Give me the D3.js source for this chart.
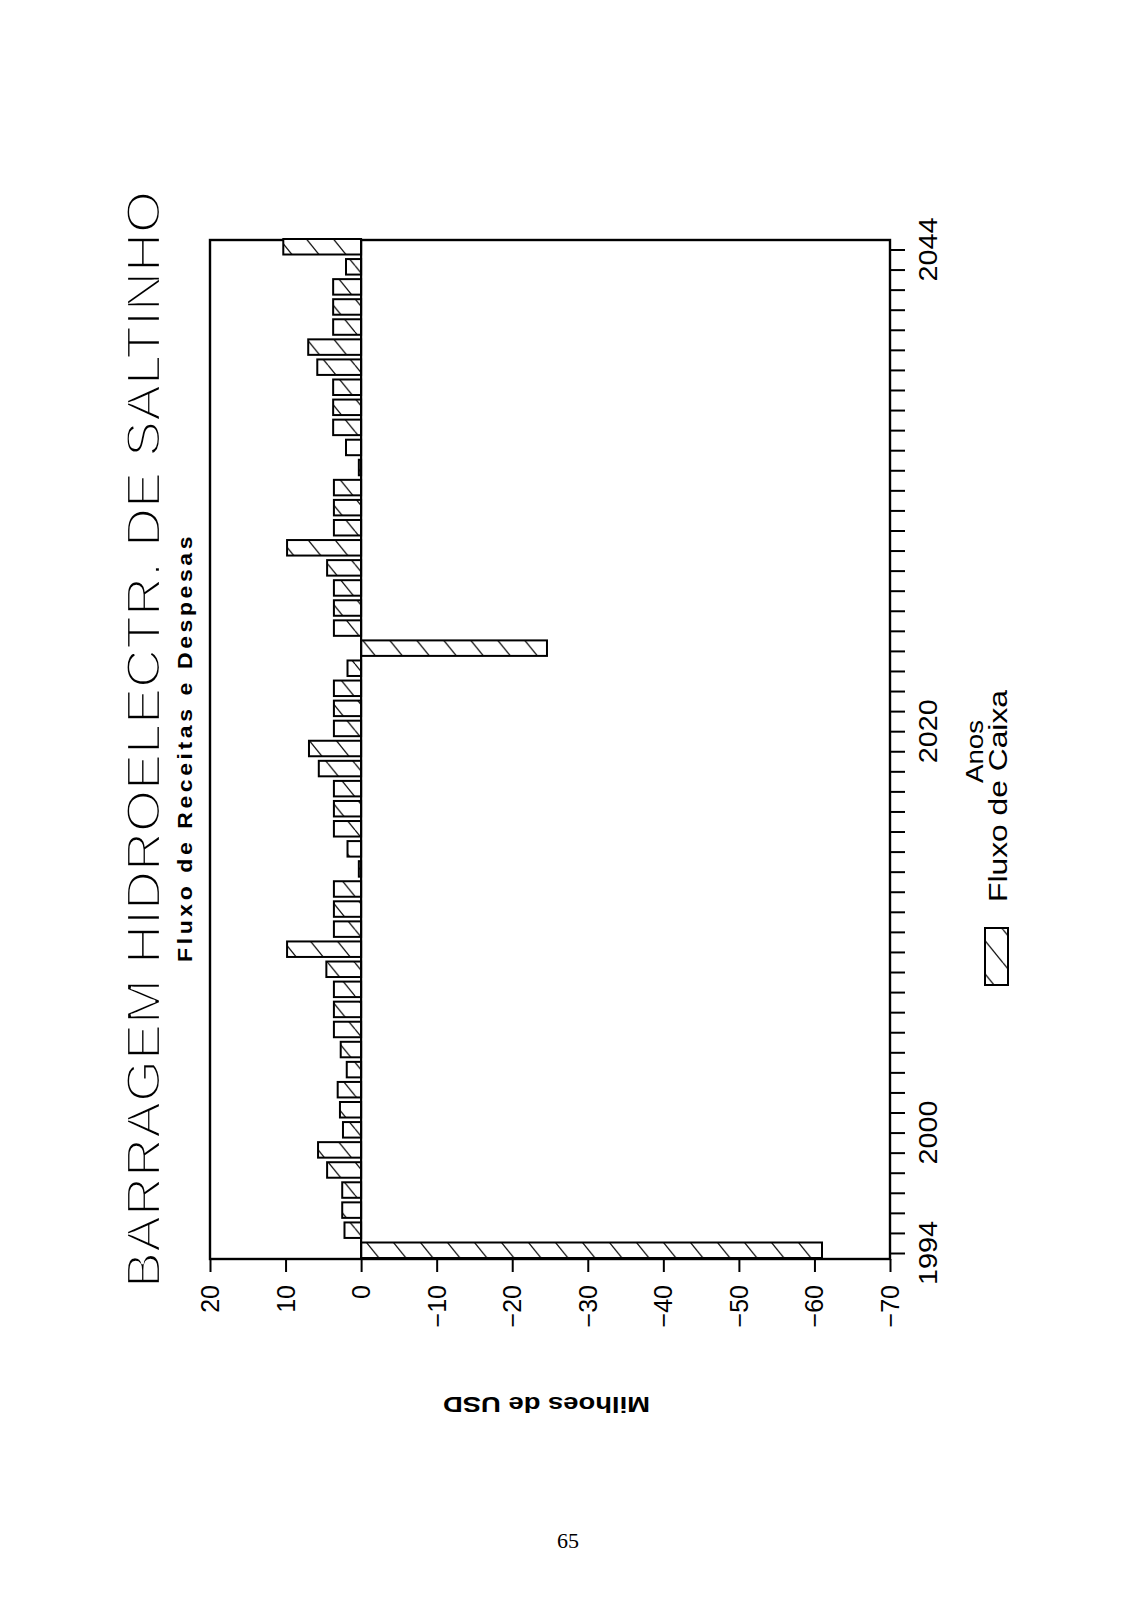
<!DOCTYPE html>
<html><head><meta charset="utf-8">
<script src="https://cdn.jsdelivr.net/npm/d3@7"></script>
<style>body{margin:0;background:#fff}</style>
</head><body>
<svg id="c" width="1131" height="1620"></svg>
<script>
// ---- data ----
const years = [1994,1995,1996,1997,1998,1999,2000,2001,2002,2003,2004,2005,2006,2007,2008,2009,
  2010,2011,2012,2013,2014,2015,2016,2017,2018,2019,2020,2021,2022,2023,2024,2025,2026,2027,2028,2029,
  2030,2031,2032,2033,2034,2035,2036,2037,2038,2039,2040,2041,2042,2043,2044];
const cashFlow = [-61,2.2,2.5,2.5,4.5,5.7,2.4,2.8,3.1,1.9,2.7,3.6,3.6,3.6,4.6,9.8,
  3.6,3.6,3.6,0.3,1.8,3.6,3.6,3.6,5.6,6.9,3.6,3.6,3.6,1.8,-24.6,3.6,3.6,3.6,4.5,9.8,
  3.6,3.6,3.6,0.3,2.0,3.7,3.7,3.7,5.8,7.0,3.7,3.7,3.7,2.0,10.3];
const valueTicks = [20,10,0,-10,-20,-30,-40,-50,-60,-70];
const valueTickLabels = ["20","10","0","\u221210","\u221220","\u221230","\u221240","\u221250","\u221260","\u221270"];
const yearTickLabels = [1994,2000,2020,2044];
const titleText = "BARRAGEM HIDROELECTR. DE SALTINHO";
const subtitleText = "Fluxo de Receitas e Despesas";
const yearAxisTitle = "Anos";
const valueAxisTitle = "Milhoes de USD";
const legendLabel = "Fluxo de Caixa";
const pageNumber = "65";

// ---- layout ----
const svg = d3.select("#c");
const boxTop = 240, boxBottom = 1259;
const vScale = d3.scaleLinear().domain([20,-70]).range([210,890]);
const yrScale = d3.scaleLinear().domain([1994,2044]).range([1253,249.5]);
const data = years.map((y,i)=>({year:y, value:cashFlow[i]}));

// hatch pattern
const defs = svg.append("defs");
const pat = defs.append("pattern").attr("id","hatch").attr("patternUnits","userSpaceOnUse")
  .attr("width",27).attr("height",33.2).attr("x",4).attr("y",0);
pat.append("rect").attr("width",27).attr("height",33.2).attr("fill","#fff");
[-27,0,27].forEach(o=>{
  pat.append("line").attr("x1",o).attr("y1",0).attr("x2",o+27).attr("y2",33.2)
    .attr("stroke","#111").attr("stroke-width",1.3);
});

// box
svg.append("rect").attr("x",vScale(20)).attr("y",boxTop)
  .attr("width",vScale(-70)-vScale(20)).attr("height",boxBottom-boxTop)
  .attr("fill","none").attr("stroke","#000").attr("stroke-width",2.4);

// bars
svg.append("g").selectAll("rect").data(data).join("rect")
  .attr("x",d=>Math.min(vScale(d.value),vScale(0)))
  .attr("width",d=>Math.abs(vScale(d.value)-vScale(0)))
  .attr("y",d=>yrScale(d.year)-10.5)
  .attr("height",15.5)
  .attr("fill","url(#hatch)").attr("stroke","#000").attr("stroke-width",2);

// zero line
svg.append("line").attr("x1",vScale(0)).attr("x2",vScale(0)).attr("y1",boxTop).attr("y2",boxBottom)
  .attr("stroke","#000").attr("stroke-width",2.2);

// year axis (right)
const ya = svg.append("g").attr("transform",`translate(${vScale(-70)},0)`)
  .call(d3.axisRight(yrScale).tickValues(years).tickSize(15).tickFormat(""));
ya.select(".domain").remove();
ya.selectAll("line").attr("stroke","#000").attr("stroke-width",2);

// value axis (bottom)
const va = svg.append("g").attr("transform",`translate(0,${boxBottom})`)
  .call(d3.axisBottom(vScale).tickValues(valueTicks).tickSize(13).tickFormat(""));
va.select(".domain").remove();
va.selectAll("line").attr("stroke","#000").attr("stroke-width",2);

const sans = "'Liberation Sans', Arial, sans-serif";

// year labels
svg.append("g").selectAll("text").data(yearTickLabels).join("text")
  .attr("transform",d=>`translate(937,${yrScale(d)}) rotate(-90)`)
  .attr("text-anchor","middle").attr("font-family",sans).attr("font-size",25)
  .attr("textLength",64).attr("lengthAdjust","spacingAndGlyphs")
  .text(d=>d);

// value labels
svg.append("g").selectAll("text").data(valueTicks).join("text")
  .attr("transform",d=>`translate(${vScale(d)+9},1285) rotate(-90)`)
  .attr("text-anchor","end").attr("font-family",sans).attr("font-size",25)
  .text((d,i)=>valueTickLabels[i]);

// title
svg.append("text").attr("transform","translate(160,1288) rotate(-90)")
  .attr("font-family",sans).attr("font-size",49)
  .attr("textLength",1097).attr("lengthAdjust","spacingAndGlyphs")
  .attr("fill","#000").attr("stroke","#fff").attr("stroke-width",2.2)
  .text(titleText);

// subtitle
svg.append("text").attr("transform","translate(192,962) rotate(-90) scale(1.15,1)")
  .attr("font-family",sans).attr("font-size",20).attr("font-weight","bold")
  .attr("textLength",370).attr("lengthAdjust","spacing")
  .text(subtitleText);

// year axis title
svg.append("text").attr("transform","translate(983,783) rotate(-90)")
  .attr("font-family",sans).attr("font-size",24)
  .attr("textLength",63).attr("lengthAdjust","spacingAndGlyphs")
  .text(yearAxisTitle);

// legend
svg.append("rect").attr("x",985).attr("y",928).attr("width",23).attr("height",57)
  .attr("fill","url(#hatch)").attr("stroke","#000").attr("stroke-width",2);
svg.append("text").attr("transform","translate(1007,902) rotate(-90)")
  .attr("font-family",sans).attr("font-size",26)
  .attr("textLength",212).attr("lengthAdjust","spacingAndGlyphs")
  .text(legendLabel);

// value axis title (upside down)
svg.append("text").attr("transform","translate(650,1397) rotate(180)")
  .attr("font-family",sans).attr("font-size",22).attr("font-weight","bold")
  .attr("textLength",207).attr("lengthAdjust","spacingAndGlyphs")
  .text(valueAxisTitle);

// page number
svg.append("text").attr("x",568).attr("y",1548).attr("text-anchor","middle")
  .attr("font-family","'Liberation Serif', 'Times New Roman', serif").attr("font-size",22)
  .text(pageNumber);
</script>
</body></html>
